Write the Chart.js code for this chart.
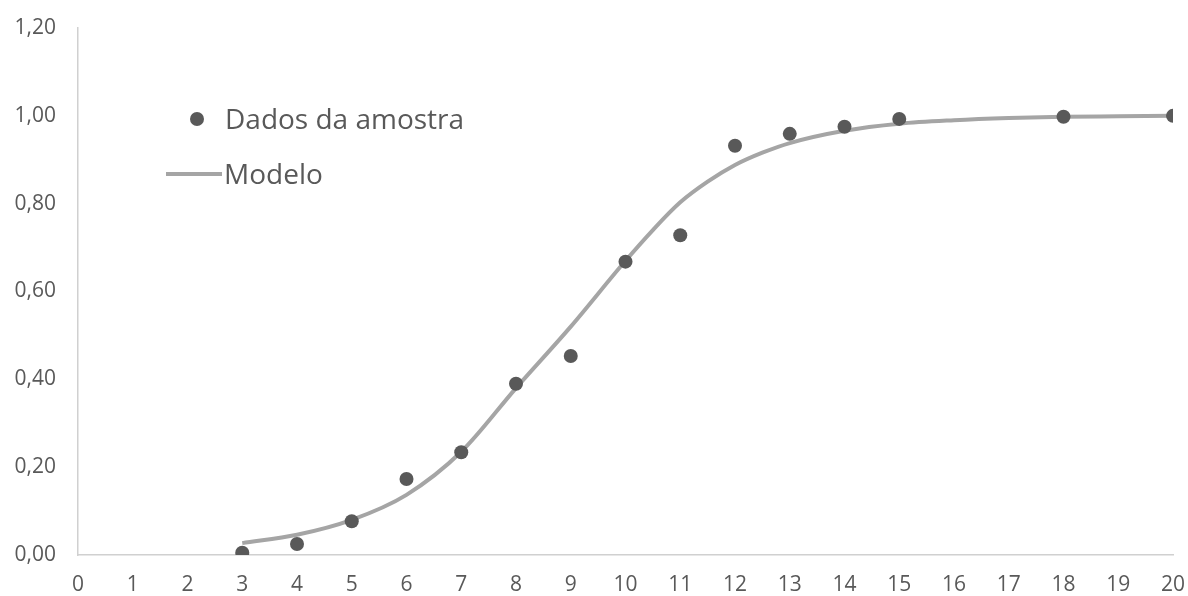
<!DOCTYPE html>
<html>
<head>
<meta charset="utf-8">
<script src="https://cdn.jsdelivr.net/npm/chart.js@4/dist/chart.umd.min.js"></script>
<style>
  html, body { margin: 0; padding: 0; background: #ffffff; }
  #wrap { position: relative; width: 1188px; height: 596px; }
  #c { position: absolute; left: 0; top: 0; }
  .lg { position: absolute; font-family: "Open Sans", sans-serif; font-size: 28px; color: #595959; line-height: 32px; white-space: nowrap; }
  .dot { position: absolute; width: 14px; height: 14px; border-radius: 50%; background: #595959; }
  .seg { position: absolute; height: 4px; background: #a5a5a5; }
</style>
</head>
<body>
<div id="wrap">
  <canvas id="c" width="1188" height="596"></canvas>
  <div class="dot" style="left:190px; top:112px;"></div>
  <div class="lg" style="left:225px; top:102px;">Dados da amostra</div>
  <div class="seg" style="left:166px; top:172px; width:56px;"></div>
  <div class="lg" style="left:224px; top:157px;">Modelo</div>
</div>
<script>
// Sample data (Dados da amostra)
const sampleX = [3, 4, 5, 6, 7, 8, 9, 10, 11, 12, 13, 14, 15, 18, 20];
const sampleY = [0.005, 0.025, 0.077, 0.173, 0.234, 0.39, 0.453, 0.668, 0.728, 0.932, 0.959, 0.975, 0.993, 0.998, 1.0];

// Model curve (Modelo)
const modelX = [3, 4, 5, 6, 7, 8, 9, 10, 10.5, 11, 11.5, 12, 12.5, 13, 14, 15, 16, 17, 18, 19, 20];
const modelY = [0.027, 0.046, 0.08, 0.137, 0.235, 0.38, 0.52, 0.67, 0.74, 0.803, 0.85, 0.888, 0.916, 0.938, 0.966, 0.982, 0.99, 0.995, 0.998, 0.999, 1.0];

// Axis ticks
const xMin = 0, xMax = 20, xStep = 1;
const yMin = 0, yMax = 1.2, yStep = 0.2;

const labelNames = ["Dados da amostra", "Modelo"];

const samplePts = sampleX.map((x, i) => ({ x: x, y: sampleY[i] }));
const modelPts = modelX.map((x, i) => ({ x: x, y: modelY[i] }));

const tickColor = '#595959';
const axisColor = '#d0d0d0';

new Chart(document.getElementById('c'), {
  type: 'scatter',
  data: {
    datasets: [
      {
        label: labelNames[0],
        data: samplePts,
        showLine: false,
        pointRadius: 7,
        pointHoverRadius: 7,
        pointBackgroundColor: '#595959',
        pointBorderColor: '#595959',
        pointBorderWidth: 0,
        order: 0
      },
      {
        label: labelNames[1],
        data: modelPts,
        showLine: true,
        pointRadius: 0,
        borderColor: '#a5a5a5',
        borderWidth: 4,
        cubicInterpolationMode: 'monotone',
        fill: false,
        order: 1
      }
    ]
  },
  options: {
    responsive: false,
    animation: false,
    devicePixelRatio: 1,
    layout: { padding: { top: 28, right: 15, bottom: 0, left: 0 } },
    plugins: { legend: { display: false }, tooltip: { enabled: false } },
    scales: {
      x: {
        type: 'linear',
        min: xMin, max: xMax,
        ticks: {
          stepSize: xStep,
          color: tickColor,
          padding: 17,
          font: { family: '"Open Sans", sans-serif', size: 21 },
          maxRotation: 0,
          autoSkip: false
        },
        grid: { display: true, drawOnChartArea: false, drawTicks: false },
        border: { display: true, color: axisColor, width: 1.5 },
        afterFit: (s) => { s.height = 41; s.paddingLeft = 0; s.paddingRight = 0; }
      },
      y: {
        type: 'linear',
        min: yMin, max: yMax,
        ticks: {
          stepSize: yStep,
          color: tickColor,
          padding: 22,
          font: { family: '"Open Sans", sans-serif', size: 21 },
          callback: (v) => Number(v).toFixed(2).replace('.', ',')
        },
        grid: { display: true, drawOnChartArea: false, drawTicks: false },
        border: { display: true, color: axisColor, width: 1.5 },
        afterFit: (s) => { s.width = 78; s.paddingTop = 0; s.paddingBottom = 0; }
      }
    }
  }
});
</script>
</body>
</html>
